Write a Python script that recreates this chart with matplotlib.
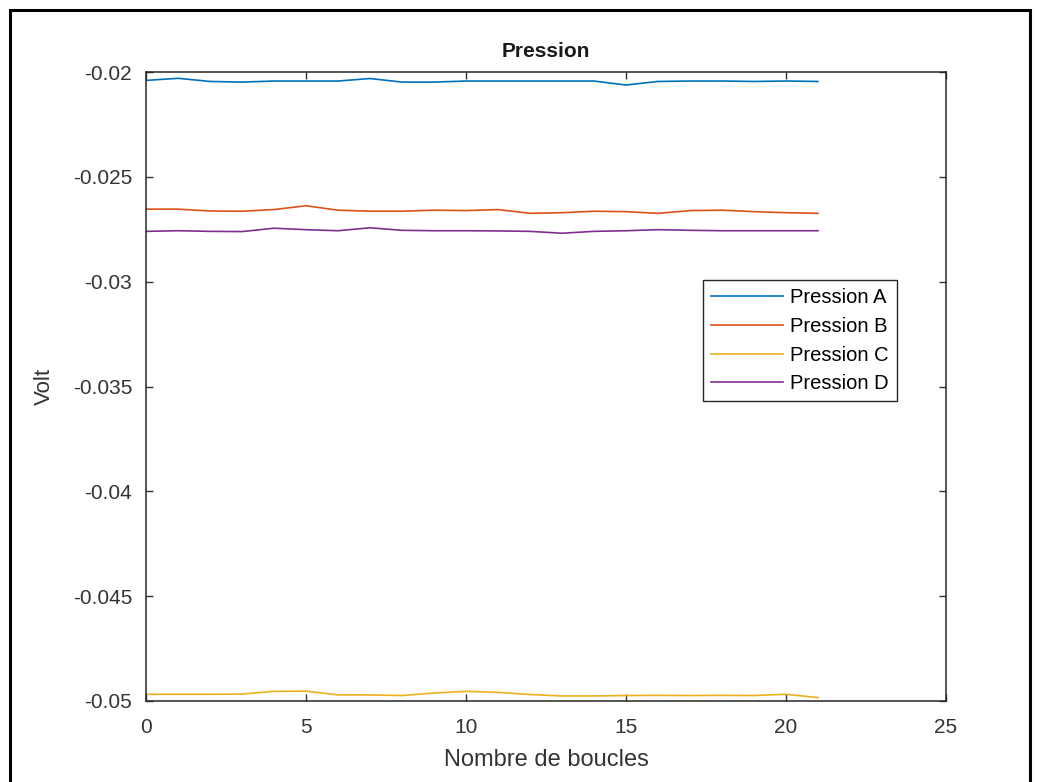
import matplotlib.pyplot as plt
from matplotlib.patches import Rectangle

plt.rcParams['font.family'] = ['Liberation Sans', 'DejaVu Sans']

# boucles 0..21
loops = list(range(22))

pression_a = [-0.02040, -0.02030, -0.02045, -0.02048, -0.02043, -0.02043,
              -0.02043, -0.02031, -0.02048, -0.02048, -0.02043, -0.02043,
              -0.02043, -0.02043, -0.02043, -0.02062, -0.02045, -0.02043,
              -0.02043, -0.02045, -0.02043, -0.02045]
pression_b = [-0.02654, -0.02654, -0.02663, -0.02664, -0.02656, -0.02638,
              -0.02659, -0.02664, -0.02664, -0.02659, -0.02661, -0.02656,
              -0.02674, -0.02671, -0.02664, -0.02666, -0.02674, -0.02661,
              -0.02659, -0.02666, -0.02671, -0.02674]
pression_c = [-0.04968, -0.04968, -0.04968, -0.04967, -0.04954, -0.04953,
              -0.04971, -0.04971, -0.04974, -0.04962, -0.04954, -0.04959,
              -0.04969, -0.04976, -0.04976, -0.04974, -0.04973, -0.04974,
              -0.04973, -0.04974, -0.04968, -0.04984]
pression_d = [-0.02760, -0.02757, -0.02760, -0.02761, -0.02745, -0.02752,
              -0.02757, -0.02743, -0.02755, -0.02757, -0.02757, -0.02758,
              -0.02760, -0.02769, -0.02760, -0.02757, -0.02752, -0.02755,
              -0.02757, -0.02757, -0.02757, -0.02757]

labels = ['Pression A', 'Pression B', 'Pression C', 'Pression D']
colors = ['#0072BD', '#D95319', '#EDB120', '#7E2F8E']
xticks = [0, 5, 10, 15, 20, 25]
yticks = [-0.05, -0.045, -0.04, -0.035, -0.03, -0.025, -0.02]

fig = plt.figure(figsize=(10.37, 7.82), dpi=100)
ax = fig.add_axes([0.1408, 0.1036, 0.7714, 0.8043])

for series, lab, col in zip([pression_a, pression_b, pression_c, pression_d], labels, colors):
    ax.plot(loops, series, color=col, lw=1.2, label=lab)

ax.set_xlim(0, 25)
ax.set_ylim(-0.05, -0.02)
ax.set_xticks(xticks)
ax.set_yticks(yticks)
ax.set_yticklabels([f'{v:g}' for v in yticks])
ax.tick_params(direction='in', top=True, right=True, length=5, width=1,
               labelsize=15, colors='#333333')
ax.tick_params(axis='x', pad=12)
ax.tick_params(axis='y', pad=10)
for sp in ax.spines.values():
    sp.set_color('#262626')
    sp.set_linewidth(1.1)

ax.set_title('Pression', fontsize=15, fontweight='bold', color='#1a1a1a', pad=11)
ax.set_xlabel('Nombre de boucles', fontsize=17, color='#333333', labelpad=9)
ax.set_ylabel('Volt', fontsize=16, color='#333333', labelpad=13)

leg = ax.legend(loc='upper left', bbox_to_anchor=(0.696, 0.669), fontsize=14.5,
                handlelength=3.6, fancybox=False, framealpha=1,
                edgecolor='#262626', borderpad=0.4, labelspacing=0.48,
                handletextpad=0.35, borderaxespad=0)
leg.get_frame().set_linewidth(1.0)

# cadre noir autour de la figure
fig.patches.append(Rectangle((10 / 1037, -0.02), 1020 / 1037, 1 - 10 / 782 + 0.02,
                             transform=fig.transFigure, fill=False,
                             edgecolor='black', linewidth=2.2))

fig.savefig('out.png', dpi=100)
